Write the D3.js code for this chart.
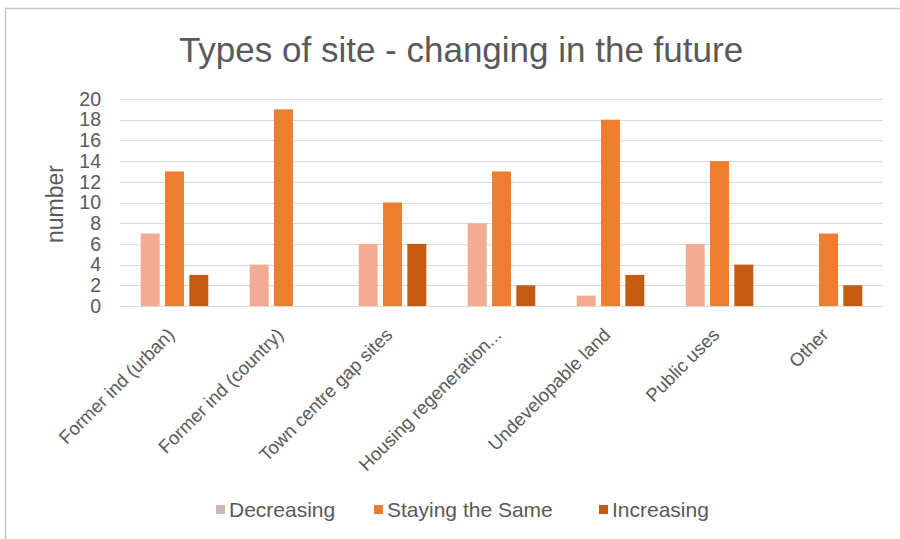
<!DOCTYPE html>
<html><head><meta charset="utf-8">
<script src="https://cdn.jsdelivr.net/npm/d3@7"></script>
<style>body{margin:0;background:#fff}svg{display:block;font-family:"Liberation Sans",Arial,sans-serif}</style>
</head><body>
<svg id="c" width="900" height="539"></svg>
<script>
const categories = ["Former ind (urban)","Former ind (country)","Town centre gap sites","Housing regeneration...","Undevelopable land","Public uses","Other"];
const seriesNames = ["Decreasing","Staying the Same","Increasing"];
const decreasing = [7,4,6,8,1,6,0];
const staying = [13,19,10,13,18,14,7];
const increasing = [3,0,6,2,3,4,2];
const yTicks = [0,2,4,6,8,10,12,14,16,18,20];
const colors = ["#F2AC94","#ED7D31","#C55A11"];
const legendColors = ["#c9b9b4","#ED7D31","#C55A11"];

const svg = d3.select("#c");
// frame
svg.append("path").attr("d","M5.5,539 V8.5 H900").attr("fill","none").attr("stroke","#c8c8c8").attr("stroke-width",1.5);

const x = d3.scaleBand().domain(categories).range([120,883]).padding(0);
const inner = d3.scaleBand().domain(seriesNames).range([x.bandwidth()*0.19, x.bandwidth()*0.81]).paddingInner(0.22);
const y = d3.scaleLinear().domain([0,20]).range([306,99]);

// gridlines
svg.append("g").selectAll("line").data(yTicks).join("line")
  .attr("x1",120).attr("x2",883).attr("y1",d=>Math.round(y(d))+0.5).attr("y2",d=>Math.round(y(d))+0.5)
  .attr("stroke","#d9d9d9").attr("stroke-width",1);

// y axis labels
const yAxis = d3.axisLeft(y).tickValues(yTicks).tickSize(0).tickPadding(0);
const gy = svg.append("g").attr("transform","translate(101,0)").call(yAxis);
gy.select(".domain").remove();
gy.selectAll("text").attr("font-size",19.5).attr("fill","#595959").attr("font-family","Liberation Sans, Arial, sans-serif");

// bars
const data = categories.map((c,i)=>({c, vals:[decreasing[i],staying[i],increasing[i]]}));
const groups = svg.append("g").selectAll("g").data(data).join("g").attr("transform",d=>`translate(${x(d.c)},0)`);
groups.selectAll("rect").data(d=>d.vals.map((v,j)=>({s:seriesNames[j],v,j}))).join("rect")
  .attr("x",d=>inner(d.s)).attr("width",inner.bandwidth())
  .attr("y",d=>y(d.v)).attr("height",d=>y(0)-y(d.v))
  .attr("fill",d=>colors[d.j]);

// x labels
const xAxis = d3.axisBottom(x).tickSize(0).tickPadding(0);
const gx = svg.append("g").attr("transform","translate(0,306)").call(xAxis);
gx.select(".domain").remove();
gx.selectAll("text").attr("font-size",18.5).attr("fill","#595959").attr("font-family","Liberation Sans, Arial, sans-serif")
  .attr("text-anchor","end").attr("dy",null).attr("y",0)
  .attr("transform","translate(1,30) rotate(-45)");

// title
svg.append("text").attr("x",461).attr("y",62).attr("text-anchor","middle").attr("font-size",35).attr("fill","#595959").text("Types of site - changing in the future");

// y title
svg.append("text").attr("transform","translate(63,204) rotate(-90)").attr("text-anchor","middle").attr("font-size",23).attr("fill","#595959").text("number");

// legend
const legX = [216, 374, 599];
const lg = svg.append("g").selectAll("g").data(seriesNames).join("g").attr("transform",(d,i)=>`translate(${legX[i]},510)`);
lg.append("rect").attr("x",0).attr("y",-5).attr("width",9).attr("height",9).attr("fill",(d,i)=>legendColors[i]);
lg.append("text").attr("x",13).attr("y",7).attr("font-size",21).attr("fill","#595959").text(d=>d);
</script>
</body></html>
